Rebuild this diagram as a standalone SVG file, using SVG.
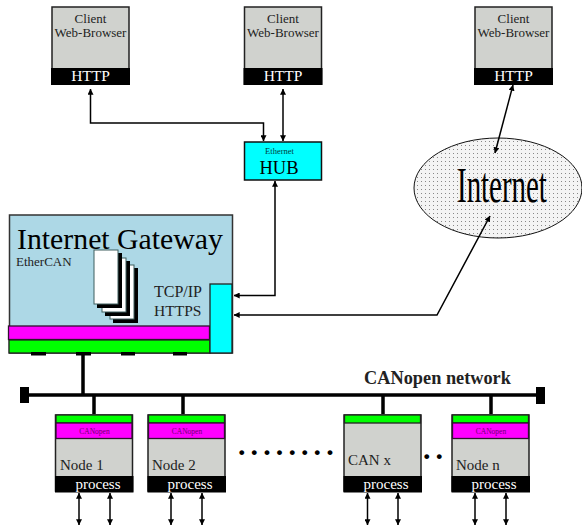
<svg xmlns="http://www.w3.org/2000/svg" width="582" height="526" viewBox="0 0 582 526">
<style>
text{font-family:"Liberation Serif","Times New Roman",serif;fill:#000}
.box{fill:#d0d2ce;stroke:#222;stroke-width:1.5}
.blk{fill:#000}
.w{fill:#fff;font-size:15px;text-anchor:middle}
.h{fill:#fff;font-size:15.500px;text-anchor:middle}
.cl{font-size:13px;text-anchor:middle;fill:#222}
.mag{fill:#f0f;stroke:#301030;stroke-width:1.3}
.grn{fill:#0f0;stroke:#222;stroke-width:1.3}
.can{font-size:7.500px;text-anchor:middle;fill:#700070}
.nl{font-size:15px;fill:#222}
.c{fill:none;stroke:#000;stroke-width:1.500}
.b{fill:none;stroke:#000;stroke-width:3.500}
.sheet{fill:#fff;stroke:#3f5f5f;stroke-width:1}
.sh{fill:#000}
.dot{font-size:30px;font-weight:bold;letter-spacing:5.100px;fill:#000}
</style>
<defs>
<marker id="a" viewBox="0 0 10 10" refX="9.500" refY="5" markerWidth="6" markerHeight="6" markerUnits="userSpaceOnUse" orient="auto-start-reverse"><path d="M0 0L10 5L0 10Z" fill="#000"/></marker>
<pattern id="dots" width="4" height="4" patternUnits="userSpaceOnUse"><rect width="4" height="4" fill="#f4f4f4"/><rect x="1" y="1" width="1" height="1" fill="#888"/></pattern>
</defs>
<g id="internet"><ellipse cx="498" cy="188" rx="84" ry="50" fill="url(#dots)" stroke="#111" stroke-width="1"/><text transform="translate(457 202) scale(0.567 1)" font-size="51">Internet</text></g>
<g id="connectors">
<path class="c" d="M90.500 89V123H263.500V141" marker-start="url(#a)" marker-end="url(#a)"/>
<path class="c" d="M283 89V141" marker-start="url(#a)" marker-end="url(#a)"/>
<path class="c" d="M275 181V295.500H234" marker-start="url(#a)" marker-end="url(#a)"/>
<path class="c" d="M513 85L495 153" marker-start="url(#a)" marker-end="url(#a)"/>
<path class="c" d="M234 315H437L490 216" marker-start="url(#a)" marker-end="url(#a)"/>
<path class="b" d="M83 353V395M22 395H540M94 395V414M183 395V414M383 395V414M491 395V414"/>
<path class="c" d="M79 493V525" marker-start="url(#a)" marker-end="url(#a)"/>
<path class="c" d="M110 493V525" marker-start="url(#a)" marker-end="url(#a)"/>
<path class="c" d="M171 493V525" marker-start="url(#a)" marker-end="url(#a)"/>
<path class="c" d="M202 493V525" marker-start="url(#a)" marker-end="url(#a)"/>
<path class="c" d="M367.500 493V525" marker-start="url(#a)" marker-end="url(#a)"/>
<path class="c" d="M398 493V525" marker-start="url(#a)" marker-end="url(#a)"/>
<path class="c" d="M475 493V525" marker-start="url(#a)" marker-end="url(#a)"/>
<path class="c" d="M506 493V525" marker-start="url(#a)" marker-end="url(#a)"/>
<rect x="20" y="387" width="9" height="16" class="blk"/>
<rect x="536" y="387" width="9" height="17" class="blk"/>
</g>
<g id="client1"><rect class="box" x="52" y="7" width="77" height="77"/><rect class="blk" x="51" y="68" width="79" height="17"/><text class="cl" x="90.500" y="23">Client</text><text class="cl" x="90.500" y="37">Web-Browser</text><text class="h" x="90.500" y="81">HTTP</text></g>
<g id="client2"><rect class="box" x="244.500" y="7" width="77" height="77"/><rect class="blk" x="243.500" y="68" width="79" height="17"/><text class="cl" x="283" y="23">Client</text><text class="cl" x="283" y="37">Web-Browser</text><text class="h" x="283" y="81">HTTP</text></g>
<g id="client3"><rect class="box" x="475" y="7" width="77" height="77"/><rect class="blk" x="474" y="68" width="79" height="17"/><text class="cl" x="513.500" y="23">Client</text><text class="cl" x="513.500" y="37">Web-Browser</text><text class="h" x="513.500" y="81">HTTP</text></g>
<g id="hub"><rect x="244.500" y="142" width="77" height="38" fill="#0ff" stroke="#111" stroke-width="1.500"/><text x="279.500" y="154" font-size="8.500" text-anchor="middle" style="fill:#004040">Ethernet</text><text x="279" y="174" font-size="18.500" text-anchor="middle">HUB</text></g>
<g id="gateway">
<rect x="9.500" y="215" width="223" height="138" fill="#add8e6" stroke="#333" stroke-width="1.500"/>
<text x="17" y="249" font-size="29.800">Internet Gateway</text>
<text x="16" y="266" font-size="13" style="fill:#222">EtherCAN</text>
<rect class="sh" x="113" y="268" width="25" height="55"/><rect class="sheet" x="110" y="265" width="24" height="54"/>
<rect class="sh" x="105" y="261" width="25" height="55"/><rect class="sheet" x="102" y="258" width="24" height="54"/>
<rect class="sh" x="97" y="253" width="25" height="55"/><rect class="sheet" x="94" y="250" width="24" height="54"/>
<text x="154" y="297" font-size="16" style="fill:#222">TCP/IP</text>
<text x="154" y="316" font-size="15.500" style="fill:#222">HTTPS</text>
<rect x="8.500" y="326" width="201" height="13.500" class="mag"/>
<rect x="9" y="340" width="201" height="13" class="grn"/>
<rect x="210" y="284" width="22" height="69" fill="#0ff" stroke="#222" stroke-width="1.300"/>
<rect class="blk" x="31" y="352" width="15" height="3.500"/><rect class="blk" x="76" y="352" width="15" height="3.500"/><rect class="blk" x="121" y="352" width="14" height="3.500"/><rect class="blk" x="173" y="352" width="14" height="3.500"/>
</g>
<text x="437.500" y="384" font-size="18.300" font-weight="bold" text-anchor="middle" style="fill:#222">CANopen network</text>
<g id="node1"><rect class="box" x="55.500" y="415" width="77" height="76"/><rect class="grn" x="56" y="415" width="76" height="8"/><rect class="mag" x="56" y="423" width="76" height="15.500"/><text class="can" x="94.500" y="434">CANopen</text><rect class="blk" x="55" y="476" width="78.500" height="16.500"/><text class="nl" x="60" y="470">Node 1</text><text class="w" x="98" y="489">process</text></g>
<g id="node2"><rect class="box" x="148" y="415" width="77" height="76"/><rect class="grn" x="148.500" y="415" width="76" height="8"/><rect class="mag" x="148.500" y="423" width="76" height="15.500"/><text class="can" x="187" y="434">CANopen</text><rect class="blk" x="147.500" y="476" width="78.500" height="16.500"/><text class="nl" x="152" y="470">Node 2</text><text class="w" x="190" y="489">process</text></g>
<text class="dot" x="238" y="455">........</text>
<g id="canx"><rect class="box" x="344" y="415" width="77" height="76"/><rect class="grn" x="344.500" y="415" width="76" height="8"/><rect class="blk" x="343.500" y="476" width="78.500" height="16.500"/><text class="nl" x="348" y="465">CAN x</text><text class="w" x="386" y="489">process</text></g>
<text class="dot" x="423" y="459">..</text>
<g id="noden"><rect class="box" x="452" y="415" width="77" height="76"/><rect class="grn" x="452.500" y="415" width="76" height="8"/><rect class="mag" x="452.500" y="423" width="76" height="15.500"/><text class="can" x="491" y="434">CANopen</text><rect class="blk" x="451.500" y="476" width="78.500" height="16.500"/><text class="nl" x="456" y="470">Node n</text><text class="w" x="494" y="489">process</text></g>
</svg>
